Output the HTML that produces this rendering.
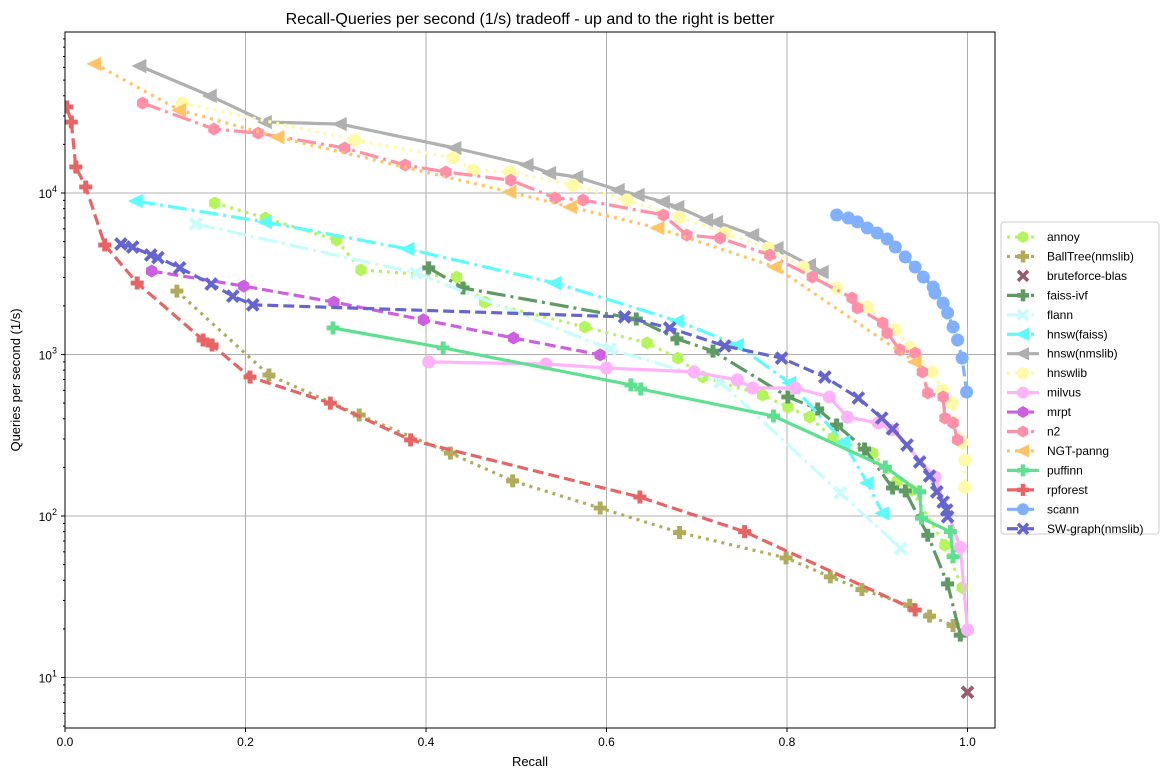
<!DOCTYPE html>
<html><head><meta charset="utf-8"><style>
body{margin:0;background:#fff;font-family:"Liberation Sans",sans-serif}
svg text{font-family:"Liberation Sans",sans-serif}
</style></head><body>
<svg id="chart" width="1168" height="778" xmlns="http://www.w3.org/2000/svg">
<rect width="1168" height="778" fill="#fff"/>
<text x="530" y="24" text-anchor="middle" font-size="16">Recall-Queries per second (1/s) tradeoff - up and to the right is better</text>
<text x="530" y="766" text-anchor="middle" font-size="13">Recall</text>
<text transform="translate(20,380) rotate(-90)" text-anchor="middle" font-size="13">Queries per second (1/s)</text>
<g id="grid"></g><g id="series"></g><g id="axes"></g><g id="legend"></g>
</svg>
<script>
const xTicks=[0,0.2,0.4,0.6,0.8,1.0];
const xTickLabels=["0.0","0.2","0.4","0.6","0.8","1.0"];
const yTicks=[10,100,1000,10000];
const yTickExps=["1","2","3","4"];
const names=["annoy","BallTree(nmslib)","bruteforce-blas","faiss-ivf","flann","hnsw(faiss)","hnsw(nmslib)","hnswlib","milvus","mrpt","n2","NGT-panng","puffinn","rpforest","scann","SW-graph(nmslib)"];
const annoyR=[0.166,0.222,0.301,0.328,0.434,0.465,0.576,0.645,0.679,0.707,0.773,0.801,0.825,0.851,0.895,0.922,0.938,0.975,0.994];
const annoyQ=[8670,7000,5120,3340,3020,2110,1480,1180,950,726,561,473,410,304,245,163,145,66,36];
const ballR=[0.124,0.226,0.326,0.427,0.496,0.593,0.681,0.799,0.848,0.883,0.936,0.958,0.984];
const ballQ=[2470,746,422,245,165,112,79,55,42,35,28,24,21];
const bruteR=[1.0];
const bruteQ=[8.1];
const faissR=[0.403,0.441,0.633,0.678,0.718,0.801,0.834,0.855,0.886,0.917,0.931,0.956,0.978,0.992];
const faissQ=[3440,2580,1660,1250,1050,546,460,366,260,149,143,76,38,18.3];
const flannR=[0.145,0.389,0.604,0.726,0.859,0.926];
const flannQ=[6430,3200,1080,676,139,63];
const hfR=[0.079,0.222,0.38,0.543,0.679,0.745,0.803,0.863,0.889,0.906];
const hfQ=[8920,6610,4500,2770,1610,1145,667,287,160,104];
const hnR=[0.083,0.161,0.222,0.305,0.432,0.512,0.537,0.567,0.613,0.635,0.663,0.679,0.711,0.722,0.762,0.789,0.825,0.839];
const hnQ=[61100,39900,27500,26700,19000,14900,13300,12560,10440,9720,8800,8190,6810,6610,5490,4560,3580,3240];
const hlR=[0.130,0.321,0.43,0.452,0.493,0.563,0.623,0.681,0.731,0.779,0.818,0.855,0.889,0.92,0.936,0.961,0.972,0.983,0.994,0.997,0.997];
const hlQ=[36100,21300,16500,13870,13500,11200,9050,7100,5650,4560,3480,2580,1970,1420,1110,780,603,500,287,222,151];
const milR=[0.403,0.533,0.6,0.697,0.745,0.762,0.809,0.847,0.867,0.901,0.917,0.964,0.992,1.0];
const milQ=[900,873,825,780,695,620,620,546,410,377,341,174,64,19.7];
const mrptR=[0.096,0.198,0.298,0.397,0.497,0.593];
const mrptQ=[3290,2650,2110,1640,1265,995];
const n2R=[0.086,0.165,0.214,0.31,0.377,0.422,0.494,0.543,0.574,0.663,0.689,0.726,0.781,0.828,0.872,0.878,0.906,0.911,0.925,0.942,0.95,0.956,0.973,0.975,0.984,0.989];
const n2Q=[36100,24900,23500,19000,14900,13500,12000,9310,9050,7310,5490,5260,4130,3020,2240,1940,1570,1360,1070,1020,780,578,546,404,377,296];
const ngtR=[0.033,0.127,0.236,0.493,0.560,0.657,0.787,0.942];
const ngtQ=[63000,32600,22200,10150,8190,6070,3480,900];
const pufR=[0.297,0.419,0.627,0.638,0.785,0.909,0.947,0.949,0.981,0.984];
const pufQ=[1460,1100,648,611,416,201,141,97,80,56];
const rpR=[0.002,0.007,0.012,0.023,0.044,0.08,0.153,0.163,0.205,0.294,0.383,0.637,0.753,0.942];
const rpQ=[34100,27500,14500,10900,4770,2770,1230,1145,726,500,296,131,80,26.2];
const scR=[0.855,0.868,0.878,0.889,0.900,0.911,0.920,0.931,0.942,0.951,0.962,0.964,0.973,0.978,0.984,0.989,0.994,0.999];
const scQ=[7310,7000,6620,6070,5650,5190,4630,4020,3480,3020,2620,2400,2080,1810,1480,1230,950,586];
const swR=[0.062,0.075,0.095,0.103,0.127,0.162,0.186,0.208,0.62,0.670,0.731,0.794,0.842,0.879,0.905,0.917,0.933,0.947,0.958,0.966,0.973,0.977,0.978];
const swQ=[4830,4630,4130,3980,3440,2730,2300,2030,1710,1460,1130,950,726,538,404,346,275,216,177,141,122,109,99];

const NS="http://www.w3.org/2000/svg";
const X0=65,X1=995,Y0=32,Y1=728;
function xs(r){return X0+r*902.5;}
function ys(q){return 193-(Math.log10(q)-4)*161.5;}
function mk(tag,attrs,parent){const e=document.createElementNS(NS,tag);for(const k in attrs)e.setAttribute(k,attrs[k]);parent.appendChild(e);return e;}
const DOT="3,5",DASH="11,5",DASHDOT="19,5,3,5";
const series=[
 {r:annoyR,q:annoyQ,c:"#b3f55a",d:DOT,m:"hex"},
 {r:ballR,q:ballQ,c:"#b0ac5c",d:DOT,m:"plus"},
 {r:bruteR,q:bruteQ,c:"#9a5a70",d:null,m:"x"},
 {r:faissR,q:faissQ,c:"#5e9a62",d:DASHDOT,m:"plus"},
 {r:flannR,q:flannQ,c:"#c8fcfc",d:DASHDOT,m:"x"},
 {r:hfR,q:hfQ,c:"#5cfcfc",d:DASHDOT,m:"tri"},
 {r:hnR,q:hnQ,c:"#b0b0b0",d:"",m:"tri"},
 {r:hlR,q:hlQ,c:"#fffaa8",d:DOT,m:"circ"},
 {r:milR,q:milQ,c:"#ffb3fa",d:"",m:"circ"},
 {r:mrptR,q:mrptQ,c:"#cc60e0",d:DASH,m:"hex"},
 {r:n2R,q:n2Q,c:"#ff90a8",d:DASHDOT,m:"hex"},
 {r:ngtR,q:ngtQ,c:"#ffc465",d:DOT,m:"tri"},
 {r:pufR,q:pufQ,c:"#5fe090",d:"",m:"plus"},
 {r:rpR,q:rpQ,c:"#e86464",d:DASH,m:"plus"},
 {r:scR,q:scQ,c:"#80b0ff",d:DASH,m:"circ"},
 {r:swR,q:swQ,c:"#6565d0",d:DASH,m:"x"}
];
function marker(g,type,x,y,c,s){
 let e;
 if(type==="circ"){e=mk("circle",{cx:x,cy:y,r:s},g);}
 else if(type==="tri"){e=mk("polygon",{points:`${x-s*1.3},${y} ${x+s},${y-s*1.1} ${x+s},${y+s*1.1}`},g);}
 else if(type==="hex"){let p=[];for(let i=0;i<6;i++){const a=Math.PI/3*i+Math.PI/6;p.push((x+s*Math.cos(a)).toFixed(1)+","+(y+s*Math.sin(a)).toFixed(1));}e=mk("polygon",{points:p.join(" ")},g);}
 else if(type==="plus"){const a=s*0.38;e=mk("path",{d:`M${x-a},${y-s}h${2*a}v${s-a}h${s-a}v${2*a}h${-(s-a)}v${s-a}h${-2*a}v${-(s-a)}h${-(s-a)}v${-2*a}h${s-a}z`},g);}
 else {e=mk("path",{d:`M${x-s},${y-s}L${x+s},${y+s}M${x+s},${y-s}L${x-s},${y+s}`,stroke:c,"stroke-width":s*0.7,fill:"none"},g);}
 if(type!=="x")e.setAttribute("fill",c);
 
 
 return e;
}
const grid=document.getElementById("grid");
xTicks.forEach(t=>{if(t>0){const l=mk("line",{x1:xs(t),x2:xs(t),y1:Y0,y2:Y1,stroke:"#b0b0b0","stroke-width":1},grid);
 
 }});
yTicks.forEach(t=>{const l=mk("line",{x1:X0,x2:X1,y1:ys(t),y2:ys(t),stroke:"#b0b0b0","stroke-width":1},grid);
 
 });
const sg=document.getElementById("series");
const cp=mk("clipPath",{id:"clip"},sg);mk("rect",{x:X0,y:Y0,width:X1-X0,height:Y1-Y0},cp);
series.forEach((s,i)=>{
 const g=mk("g",{"clip-path":"url(#clip)"},sg);
 
 
 if(s.r.length>1){
  const pts=s.r.map((r,k)=>xs(r).toFixed(1)+","+ys(s.q[k]).toFixed(1)).join(" ");
  const pl=mk("polyline",{points:pts,fill:"none",stroke:s.c,"stroke-width":3.2,"stroke-linejoin":"round"},g);
  if(s.d)pl.setAttribute("stroke-dasharray",s.d);
  
  
 }
 s.r.forEach((r,k)=>marker(g,s.m,xs(r),ys(s.q[k]),s.c,s.m==="x"?5.5:6.5));
});
const ax=document.getElementById("axes");
const fr=mk("rect",{x:X0,y:Y0,width:X1-X0,height:Y1-Y0,fill:"none",stroke:"#000","stroke-width":1},ax);


xTicks.forEach((t,i)=>{mk("line",{x1:xs(t),x2:xs(t),y1:Y1,y2:Y1+4,stroke:"#000"},ax);
 const tx=mk("text",{x:xs(t),y:Y1+18,"text-anchor":"middle","font-size":12},ax);tx.textContent=xTickLabels[i];
 
 });
yTicks.forEach((t,i)=>{const y=ys(t);mk("line",{x1:X0-4,x2:X0,y1:y,y2:y,stroke:"#000"},ax);
 const tx=mk("text",{x:X0-8,y:y+5,"text-anchor":"end","font-size":12},ax);
 const a=mk("tspan",{},tx);a.textContent="10";const b=mk("tspan",{dy:-6,"font-size":9},tx);b.textContent=yTickExps[i];
 
 });
for(let e=0;e<5;e++){for(let m=2;m<10;m++){const q=m*Math.pow(10,e);const y=ys(q);if(y>Y0&&y<Y1)mk("line",{x1:X0-2,x2:X0,y1:y,y2:y,stroke:"#000"},ax);}}
const lg=document.getElementById("legend");
const lb=mk("rect",{x:1001,y:222,width:158,height:312,fill:"#fff",stroke:"#ccc",rx:3},lg);


series.forEach((s,i)=>{
 const y=237+i*19.45;
 const g=mk("g",{},lg);
 
 
 const l=mk("line",{x1:1007,x2:1039,y1:y,y2:y,stroke:s.c,"stroke-width":3.2},g);
 if(s.d)l.setAttribute("stroke-dasharray",s.d);
 if(s.r.length<=1)l.setAttribute("stroke","none");
 marker(g,s.m,1023,y,s.c,s.m==="x"?5:6);
 const t=mk("text",{x:1047,y:y+4,"font-size":12},g);t.textContent=names[i];
});
</script>
</body></html>
